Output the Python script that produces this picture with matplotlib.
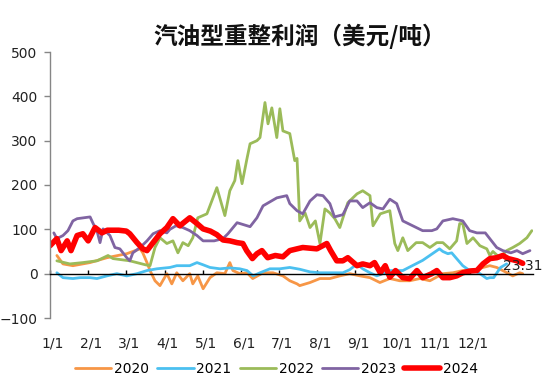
import matplotlib
matplotlib.use("Agg")
import matplotlib.pyplot as plt
import matplotlib.transforms as mtransforms

plt.rcParams['font.family'] = ['DejaVu Sans', 'Noto Sans CJK SC']

title = "汽油型重整利润（美元/吨）"
month_labels = ["1/1", "2/1", "3/1", "4/1", "5/1", "6/1", "7/1", "8/1", "9/1", "10/1", "11/1", "12/1"]
years = ["2020", "2021", "2022", "2023", "2024"]
colors = ["#F79646", "#4BC0F0", "#9BBB59", "#8064A2", "#FF0000"]
widths = [2.0, 2.0, 2.0, 2.0, 4.0]

# x in months since 1/1, y in USD/t
x2020 = [0.18, 0.34, 0.60, 1.05, 1.49, 2.01, 2.36, 2.43, 2.54, 2.62, 2.75, 2.88, 3.06, 3.19, 3.32, 3.48,
         3.66, 3.74, 3.87, 4.01, 4.19, 4.37, 4.58, 4.71, 4.79, 4.97, 5.16, 5.31, 5.58, 5.84, 6.10, 6.28,
         6.47, 6.54, 6.81, 7.07, 7.33, 7.59, 7.85, 8.12, 8.38, 8.64, 8.90, 9.16, 9.42, 9.69, 9.95, 10.29,
         10.55, 10.81, 11.07, 11.34, 11.52, 11.70, 11.86, 12.12, 12.30, 12.38]
y2020 = [41, 22, 18, 25, 36, 45, 56, 47, 25, 7, -16, -27, 0, -23, 2, -16,
         0, -23, -5, -34, -9, 2, 0, 25, 7, 0, 2, -11, 2, 2, -5, -16,
         -23, -27, -20, -11, -11, -5, 0, -5, -9, -20, -11, -16, -16, -11, -16, 0,
         2, 7, 7, 14, 18, 14, 7, -5, 2, 0]

x2021 = [0.18, 0.34, 0.60, 0.79, 1.05, 1.23, 1.49, 1.75, 2.01, 2.28, 2.54, 2.80, 3.14, 3.32, 3.66, 3.85,
         4.01, 4.19, 4.45, 4.71, 4.97, 5.16, 5.32, 5.50, 5.76, 6.02, 6.28, 6.54, 6.81, 7.07, 7.33, 7.67,
         7.85, 8.04, 8.19, 8.38, 8.56, 8.72, 8.90, 9.24, 9.76, 10.20, 10.29, 10.42, 10.52, 10.65, 10.81,
         10.99, 11.08, 11.26, 11.44, 11.52, 11.62, 11.80, 11.96]
y2021 = [2, -9, -11, -9, -9, -11, -5, 0, -5, 0, 7, 11, 14, 18, 18, 25,
         20, 14, 11, 13, 11, 7, -5, 2, 11, 11, 14, 10, 4, 2, 2, 2,
         9, 22, 11, 2, -5, 0, 7, 7, 30, 56, 50, 45, 47, 34, 18,
         7, 9, 0, -11, -9, -9, 14, 22]

x2022 = [0.18, 0.52, 0.86, 1.23, 1.52, 1.65, 2.09, 2.50, 2.62, 2.75, 2.88, 3.06, 3.22, 3.35, 3.48, 3.62,
         3.74, 3.87, 4.11, 4.37, 4.58, 4.71, 4.84, 4.92, 5.03, 5.16, 5.24, 5.42, 5.50, 5.63, 5.71, 5.81,
         5.94, 6.02, 6.10, 6.28, 6.41, 6.47, 6.54, 6.68, 6.81, 6.95, 7.07, 7.20, 7.33, 7.46, 7.59, 7.80,
         8.04, 8.19, 8.38, 8.46, 8.65, 8.90, 9.03, 9.11, 9.24, 9.37, 9.59, 9.76, 9.95, 10.13, 10.29, 10.47,
         10.65, 10.73, 10.81, 10.92, 11.08, 11.26, 11.44, 11.52, 11.60, 11.78, 11.96, 12.12, 12.30, 12.49, 12.62]
y2022 = [29, 22, 25, 29, 41, 34, 29, 20, 18, 59, 81, 68, 74, 47, 70, 63,
         81, 126, 135, 194, 131, 187, 210, 255, 203, 260, 293, 300, 307, 386, 338, 374,
         307, 372, 322, 316, 255, 260, 119, 137, 104, 119, 68, 146, 137, 124, 104, 160,
         180, 187, 176, 108, 135, 142, 68, 52, 81, 52, 70, 70, 59, 70, 70, 56,
         74, 113, 113, 68, 81, 63, 56, 41, 50, 36, 52, 59, 68, 81, 97]

x2023 = [0.10, 0.18, 0.34, 0.47, 0.60, 0.71, 1.05, 1.13, 1.23, 1.31, 1.39, 1.57, 1.70, 1.83, 2.01, 2.09,
         2.17, 2.36, 2.54, 2.70, 2.88, 3.06, 3.14, 3.30, 3.48, 3.66, 3.85, 4.01, 4.30, 4.53, 4.66, 4.90,
         5.24, 5.42, 5.58, 5.76, 5.94, 6.20, 6.28, 6.47, 6.62, 6.81, 6.99, 7.15, 7.33, 7.45, 7.67, 7.85,
         8.04, 8.19, 8.38, 8.56, 8.72, 8.90, 9.08, 9.24, 9.50, 9.76, 10.00, 10.13, 10.29, 10.55, 10.81,
         10.99, 11.18, 11.40, 11.70, 11.86, 12.07, 12.23, 12.38, 12.57]
y2023 = [92, 79, 86, 97, 119, 124, 128, 113, 97, 70, 101, 86, 59, 56, 36, 29,
         47, 59, 74, 90, 97, 92, 100, 108, 104, 97, 86, 74, 74, 79, 90, 115,
         106, 126, 153, 162, 171, 176, 158, 142, 135, 164, 178, 176, 158, 128, 133, 164,
         164, 149, 160, 149, 146, 168, 158, 119, 108, 97, 97, 101, 119, 124, 119,
         97, 92, 92, 59, 52, 47, 52, 45, 52]

x2024 = [0.00, 0.18, 0.29, 0.45, 0.55, 0.71, 0.86, 1.00, 1.18, 1.36, 1.50, 1.80, 2.00, 2.09, 2.28, 2.43,
         2.54, 2.70, 2.88, 3.06, 3.22, 3.32, 3.40, 3.66, 3.85, 4.01, 4.20, 4.37, 4.53, 4.71, 4.90, 5.05,
         5.15, 5.30, 5.42, 5.55, 5.70, 5.90, 6.10, 6.28, 6.47, 6.62, 6.99, 7.25, 7.35, 7.51, 7.67, 7.80,
         8.04, 8.19, 8.38, 8.50, 8.65, 8.78, 8.90, 9.05, 9.24, 9.42, 9.61, 9.76, 10.00, 10.13, 10.29,
         10.47, 10.65, 10.81, 11.00, 11.18, 11.34, 11.52, 11.70, 11.86, 12.00, 12.23, 12.38]
y2024 = [63, 79, 52, 74, 52, 86, 90, 74, 104, 92, 98, 98, 96, 90, 70, 56,
         52, 70, 90, 104, 124, 115, 108, 126, 113, 101, 96, 88, 76, 74, 70, 68,
         52, 34, 45, 52, 36, 41, 38, 52, 56, 59, 56, 68, 52, 29, 29, 36,
         18, 22, 18, 25, 2, 18, -8, 7, -9, -11, 7, -9, 0, 7, -9,
         -9, -5, 2, 6, 7, 22, 34, 36, 41, 34, 29, 23.31]

xs = [x2020, x2021, x2022, x2023, x2024]
ys = [y2020, y2021, y2022, y2023, y2024]

fig = plt.figure(figsize=(5.5, 3.9), dpi=100)
ax = fig.add_axes([50/550, 1 - 318/390, 483/550, 266/390])

for x, y, c, w, lab in zip(xs, ys, colors, widths, years):
    ax.plot(x, y, color=c, lw=w, label=lab, solid_joinstyle='round', solid_capstyle='round')

ax.annotate(f"{y2024[-1]:.2f}", (x2024[-1], y2024[-1]), ha='center', va='center',
            fontsize=10, color='#222222', xytext=(0, -2), textcoords='offset points')

ax.set_xlim(0, 12.65)
ax.set_ylim(-100, 500)
ax.set_yticks(range(-100, 501, 100))

for s in ['top', 'right']:
    ax.spines[s].set_visible(False)
ax.spines['left'].set_color('#868686')
ax.spines['left'].set_linewidth(1.0)
ax.spines['bottom'].set_position(('data', 0))
ax.spines['bottom'].set_color('black')
ax.spines['bottom'].set_linewidth(1.0)
ax.set_xticks(range(0, 13))
ax.tick_params(axis='x', direction='in', length=3, width=1, color='black', labelbottom=False)
ax.tick_params(axis='y', direction='out', length=4, width=1, color='#868686', pad=5,
               labelsize=10, labelcolor='#222222')

sec = ax.secondary_xaxis('bottom')
sec.spines['bottom'].set_visible(False)
sec.set_xticks(range(12))
sec.set_xticklabels(month_labels)
sec.tick_params(axis='x', length=0, pad=13.5, labelsize=10, labelcolor='#222222')
offset = mtransforms.ScaledTranslation(3/100, 0, fig.dpi_scale_trans)
for lbl in sec.get_xticklabels():
    lbl.set_transform(lbl.get_transform() + offset)

fig.text(0.545, 1 - 36/390, title, ha='center', va='center', fontsize=17, fontweight='bold',
         family=['Noto Sans CJK SC', 'DejaVu Sans'], color='#111111')

fig.legend(loc='center', bbox_to_anchor=(0.503, 1 - 369/390), ncol=5, frameon=False,
           fontsize=10, handlelength=2.6, handletextpad=0.2, columnspacing=0.6)

fig.savefig("out.png", dpi=100)
